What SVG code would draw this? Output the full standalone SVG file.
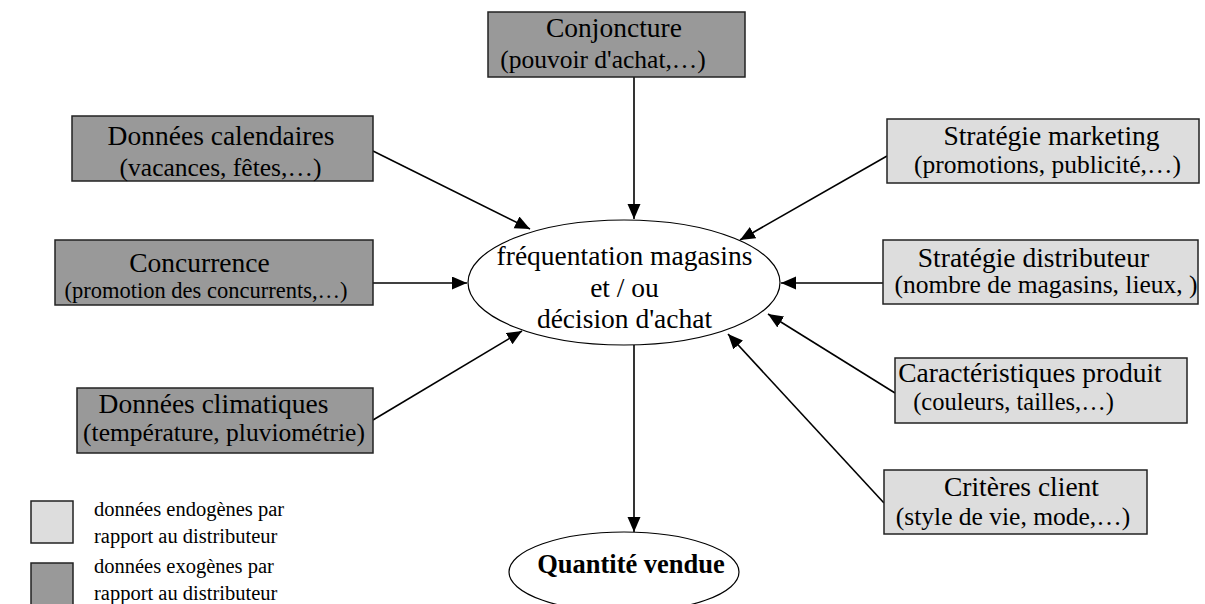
<svg xmlns="http://www.w3.org/2000/svg" width="1205" height="604" viewBox="0 0 1205 604">
  <style>
    .t1 { font-family: "Liberation Serif", "Times New Roman", serif; font-size: 27.5px; fill: #000; text-anchor: middle; }
    .t2 { font-family: "Liberation Serif", "Times New Roman", serif; font-size: 25.5px; fill: #000; text-anchor: middle; }
    .leg { font-family: "Liberation Serif", "Times New Roman", serif; font-size: 20.5px; fill: #000; }
    .exo { fill: #999999; stroke: #222; stroke-width: 1.5; }
    .endo { fill: #dddddd; stroke: #222; stroke-width: 1.5; }
    .oval { fill: #fff; stroke: #000; stroke-width: 1.2; }
    .arr { stroke: #000; stroke-width: 1.6; fill: none; marker-end: url(#head); }
  </style>
  <defs>
    <marker id="head" markerUnits="userSpaceOnUse" markerWidth="16" markerHeight="14" refX="15" refY="6.5" orient="auto">
      <path d="M0,0 L15,6.5 L0,13 z" fill="#000"/>
    </marker>
  </defs>
  <rect width="1205" height="604" fill="#fff"/>

  <!-- connectors -->
  <g id="connectors">
    <line class="arr" x1="634" y1="77" x2="634" y2="219"/>
    <line class="arr" x1="373" y1="151" x2="530" y2="229"/>
    <line class="arr" x1="373" y1="283" x2="467" y2="283"/>
    <line class="arr" x1="373" y1="420" x2="522" y2="331"/>
    <line class="arr" x1="887" y1="156" x2="740" y2="240"/>
    <line class="arr" x1="883" y1="283" x2="781" y2="283"/>
    <line class="arr" x1="895" y1="393" x2="768" y2="314"/>
    <line class="arr" x1="884" y1="503" x2="728" y2="334"/>
    <line class="arr" x1="634" y1="345" x2="634" y2="532"/>
  </g>

  <g id="conjoncture">
    <rect class="exo" x="488" y="12" width="257" height="65"/>
    <text class="t1" x="614" y="37">Conjoncture</text>
    <text class="t2" x="603" y="68">(pouvoir d'achat,…)</text>
  </g>

  <g id="calendaires">
    <rect class="exo" x="72" y="116" width="301" height="65"/>
    <text class="t1" x="221" y="145">Données calendaires</text>
    <text class="t2" x="220.5" y="176">(vacances, fêtes,…)</text>
  </g>

  <g id="concurrence">
    <rect class="exo" x="55" y="240" width="318" height="65"/>
    <text class="t1" x="199.5" y="272">Concurrence</text>
    <text class="t2" x="206" y="298" style="font-size:22.5px">(promotion des concurrents,…)</text>
  </g>

  <g id="climatiques">
    <rect class="exo" x="77" y="388" width="296" height="65"/>
    <text class="t1" x="213.5" y="413">Données climatiques</text>
    <text class="t2" x="224" y="441">(température, pluviométrie)</text>
  </g>

  <g id="marketing">
    <rect class="endo" x="887" y="119" width="312" height="64"/>
    <text class="t1" x="1051.5" y="145">Stratégie marketing</text>
    <text class="t2" x="1047.5" y="173">(promotions, publicité,…)</text>
  </g>

  <g id="distributeur">
    <rect class="endo" x="883" y="240" width="315" height="64"/>
    <text class="t1" x="1033.5" y="267">Stratégie distributeur</text>
    <text class="t2" x="1046" y="293">(nombre de magasins, lieux, )</text>
  </g>

  <g id="produit">
    <rect class="endo" x="895" y="358" width="292" height="65"/>
    <text class="t1" x="1030" y="382">Caractéristiques produit</text>
    <text class="t2" x="1013.5" y="410" style="font-size:24.5px">(couleurs, tailles,…)</text>
  </g>

  <g id="client">
    <rect class="endo" x="884" y="470" width="263" height="64"/>
    <text class="t1" x="1021.5" y="496">Critères client</text>
    <text class="t2" x="1013" y="525">(style de vie, mode,…)</text>
  </g>

  <g id="decision">
    <ellipse class="oval" cx="624" cy="282.5" rx="156" ry="62.5"/>
    <text class="t1" x="624.5" y="265">fréquentation magasins</text>
    <text class="t1" x="624.5" y="297">et / ou</text>
    <text class="t1" x="624.5" y="328">décision d'achat</text>
  </g>

  <g id="quantite">
    <ellipse class="oval" cx="624" cy="572" rx="115" ry="40"/>
    <text class="t1" x="631" y="573" style="font-weight:bold;font-size:26.5px">Quantité vendue</text>
  </g>

  <g id="legende">
    <rect class="endo" x="31" y="501" width="42" height="42"/>
    <text class="leg" x="94" y="516">données endogènes par</text>
    <text class="leg" x="94" y="543">rapport au distributeur</text>
    <rect class="exo" x="31" y="563" width="42" height="45"/>
    <text class="leg" x="94" y="573">données exogènes par</text>
    <text class="leg" x="94" y="600">rapport au distributeur</text>
  </g>
</svg>
